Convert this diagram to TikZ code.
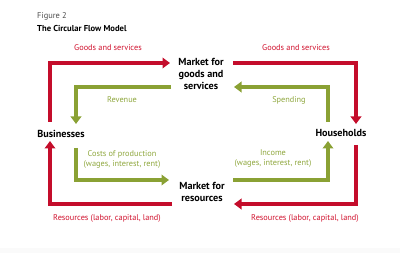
\documentclass[tikz,border=0pt]{standalone}
\usepackage{fontspec}
\setmainfont{PT Sans}
\usetikzlibrary{arrows.meta}
\definecolor{cfred}{HTML}{C40D2B}
\definecolor{cfgreen}{HTML}{8AA134}
\definecolor{lblred}{HTML}{D0122E}
\definecolor{lblgreen}{HTML}{8FA73E}
\begin{document}
\begin{tikzpicture}[x=1pt,y=-1pt,
  flow/.style={line width=4.2pt,line join=miter,-{Triangle[length=7.5pt,width=10.5pt]}},
  redflow/.style={flow,draw=cfred},
  greenflow/.style={flow,draw=cfgreen},
  hub/.style={font=\fontsize{10.2}{11.8}\selectfont\bfseries,align=center,inner sep=0pt},
  redlbl/.style={font=\fontsize{8.3}{10}\selectfont,text=lblred,inner sep=0pt},
  greenlbl/.style={font=\fontsize{8.3}{10}\selectfont,text=lblgreen,inner sep=0pt,align=center}]
\useasboundingbox (0,0) rectangle (400,253);
\fill[gray!4] (0,248) rectangle (400,253);
% title
\node[anchor=west,inner sep=0pt,font=\fontsize{8.4}{9}\selectfont,text=black!70] (fig) at (37,16) {Figure 2};
\node[anchor=west,inner sep=0pt,font=\fontsize{8.6}{9}\selectfont\bfseries] (ttl) at (37,28) {The Circular Flow Model};
% hubs
\node[hub] (mg) at (201,74) {Market for\\goods and\\services};
\node[hub] (mr) at (202,192) {Market for\\resources};
\node[hub] (bus) at (61,134) {Businesses};
\node[hub] (hh) at (341,133) {Households};
% coordinates
\coordinate (a1) at (50,122);  \coordinate (a2) at (50,63);  \coordinate (a3) at (170,63);
\coordinate (b1) at (171,87);  \coordinate (b2) at (76,87);  \coordinate (b3) at (76,124);
\coordinate (c1) at (328,122); \coordinate (c2) at (328,87); \coordinate (c3) at (234,87);
\coordinate (d1) at (233,63);  \coordinate (d2) at (356,63); \coordinate (d3) at (356,124);
\coordinate (e1) at (356,145); \coordinate (e2) at (356,204); \coordinate (e3) at (234,204);
\coordinate (f1) at (233,180); \coordinate (f2) at (328,180); \coordinate (f3) at (328,141);
\coordinate (g1) at (172,204); \coordinate (g2) at (50,204); \coordinate (g3) at (50,141);
\coordinate (h1) at (76,148);  \coordinate (h2) at (76,180); \coordinate (h3) at (169,180);
% flows
\draw[redflow] (a1) -- (a2) -- (a3);
\draw[greenflow] (b1) -- (b2) -- (b3);
\draw[greenflow] (c1) -- (c2) -- (c3);
\draw[redflow] (d1) -- (d2) -- (d3);
\draw[redflow] (e1) -- (e2) -- (e3);
\draw[greenflow] (f1) -- (f2) -- (f3);
\draw[redflow] (g1) -- (g2) -- (g3);
\draw[greenflow] (h1) -- (h2) -- (h3);
% labels
\node[redlbl] (l1) at (108,48) {Goods and services};
\node[redlbl] (l2) at (296,48) {Goods and services};
\node[greenlbl] (l3) at (122,100) {Revenue};
\node[greenlbl] (l4) at (289,100) {Spending};
\node[greenlbl] (l5) at (122,159) {Costs of production\\(wages, interest, rent)};
\node[greenlbl] (l6) at (273,159) {Income\\(wages, interest, rent)};
\node[redlbl] (l7) at (107,218) {Resources (labor, capital, land)};
\node[redlbl] (l8) at (305,218) {Resources (labor, capital, land)};
\end{tikzpicture}
\end{document}
